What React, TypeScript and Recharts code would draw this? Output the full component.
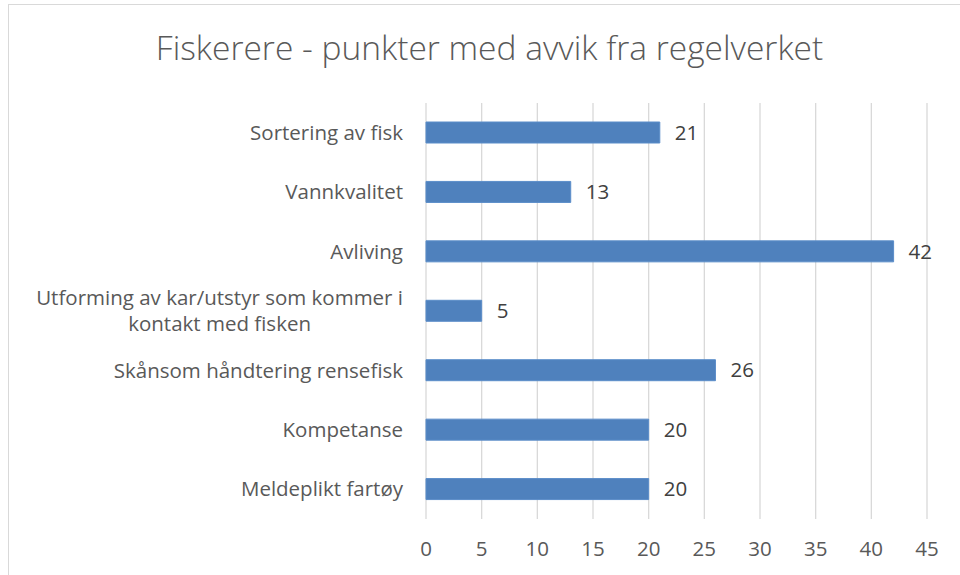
import { BarChart, Bar, XAxis, YAxis, CartesianGrid, LabelList } from "recharts";

const categories = [
  "Sortering av fisk",
  "Vannkvalitet",
  "Avliving",
  "Utforming av kar/utstyr som kommer i\nkontakt med fisken",
  "Skånsom håndtering rensefisk",
  "Kompetanse",
  "Meldeplikt fartøy",
];
const values = [21, 13, 42, 5, 26, 20, 20];
const xTicks = [0, 5, 10, 15, 20, 25, 30, 35, 40, 45];
const title = "Fiskerere - punkter med avvik fra regelverket";

const data = categories.map((name, i) => ({ name, value: values[i] }));

const FONT = "'Open Sans', sans-serif";
const TICK_SIZE = 20.5;

let ctx: CanvasRenderingContext2D | null = null;
function measure(text: string) {
  if (!ctx) ctx = document.createElement("canvas").getContext("2d");
  if (!ctx) return text.length * 10;
  ctx.font = `${TICK_SIZE}px ${FONT}`;
  return ctx.measureText(text).width;
}

// category label: single lines right aligned, wrapped lines centred on the widest one
function CategoryTick(props: any) {
  const { x, y, payload } = props;
  const lines: string[] = String(payload.value).split("\n");
  const lineH = 26.5;
  if (lines.length === 1) {
    return (
      <text x={x} y={y} dy="0.35em" textAnchor="end" fill="#595959" fontSize={TICK_SIZE} fontFamily={FONT}>
        {lines[0]}
      </text>
    );
  }
  const widest = Math.max(...lines.map(measure));
  const cx = x - widest / 2;
  const y0 = y - ((lines.length - 1) * lineH) / 2;
  return (
    <text textAnchor="middle" fill="#595959" fontSize={TICK_SIZE} fontFamily={FONT}>
      {lines.map((l, i) => (
        <tspan key={i} x={cx} y={y0 + i * lineH} dy="0.35em">
          {l}
        </tspan>
      ))}
    </text>
  );
}

export default function App() {
  return (
    <div style={{ position: "fixed", left: 0, top: 0, width: 960, height: 575, overflow: "hidden", background: "#fff" }}>
      <div
        style={{
          position: "absolute",
          left: 8,
          top: 4,
          width: 966,
          height: 600,
          border: "1px solid #d9d9d9",
          boxSizing: "border-box",
        }}
      />
      <div
        style={{
          position: "absolute",
          left: 8,
          width: 963,
          top: 24,
          textAlign: "center",
          fontFamily: FONT,
          fontWeight: 300,
          fontSize: 33.5,
          color: "#595959",
          whiteSpace: "nowrap",
        }}
      >
        {title}
      </div>
      <div style={{ position: "absolute", left: 0, top: 0 }}>
        <BarChart
          width={960}
          height={575}
          data={data}
          layout="vertical"
          margin={{ top: 103, right: 33, bottom: 0, left: 0 }}
          barCategoryGap="32%"
        >
          <CartesianGrid horizontal={false} stroke="#d9d9d9" strokeWidth={1.3} />
          <XAxis
            type="number"
            domain={[0, 45]}
            ticks={xTicks}
            interval={0}
            axisLine={false}
            tickLine={false}
            tickSize={6}
            tickMargin={16}
            height={56}
            tick={{ fill: "#595959", fontSize: TICK_SIZE, fontFamily: FONT }}
          />
          <YAxis
            type="category"
            dataKey="name"
            width={426}
            axisLine={false}
            tickLine={false}
            tickSize={0}
            tickMargin={23}
            interval={0}
            tick={<CategoryTick />}
          />
          <Bar dataKey="value" fill="#4f81bd" stroke="#5b8dc9" strokeWidth={1} barSize={21} isAnimationActive={false}>
            <LabelList
              dataKey="value"
              position="right"
              offset={15}
              fill="#404040"
              fontSize={TICK_SIZE}
              fontFamily={FONT}
            />
          </Bar>
        </BarChart>
      </div>
    </div>
  );
}
